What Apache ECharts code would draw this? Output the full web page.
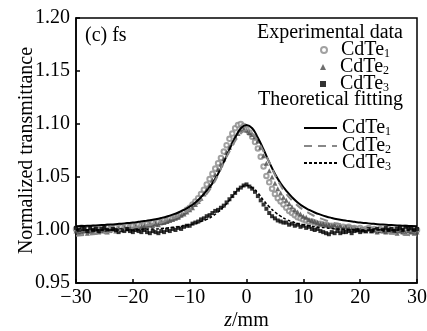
<!DOCTYPE html>
<html>
<head>
<meta charset="utf-8">
<script src="https://cdn.jsdelivr.net/npm/echarts@6/dist/echarts.min.js"></script>
<style>
html,body{margin:0;padding:0;background:#fff;}
#c{width:427px;height:331px;}
</style>
</head>
<body>
<div id="c"></div>
<script>
// ---- data ----
const zExp = [-30,-29.5,-29,-28.5,-28,-27.5,-27,-26.5,-26,-25.5,
-25,-24.5,-24,-23.5,-23,-22.5,-22,-21.5,-21,-20.5,
-20,-19.5,-19,-18.5,-18,-17.5,-17,-16.5,-16,-15.5,
-15,-14.5,-14,-13.5,-13,-12.5,-12,-11.5,-11,-10.5,
-10,-9.5,-9,-8.5,-8,-7.5,-7,-6.5,-6,-5.5,
-5,-4.5,-4,-3.5,-3,-2.5,-2,-1.5,-1,-0.5,
0,0.5,1,1.5,2,2.5,3,3.5,4,4.5,
5,5.5,6,6.5,7,7.5,8,8.5,9,9.5,
10,10.5,11,11.5,12,12.5,13,13.5,14,14.5,
15,15.5,16,16.5,17,17.5,18,18.5,19,19.5,
20,20.5,21,21.5,22,22.5,23,23.5,24,24.5,
25,25.5,26,26.5,27,27.5,28,28.5,29,29.5,
30];
const expCdTe1 = [1.001,0.999,1.002,1.000,1.001,0.999,1.002,1.001,1.000,1.002,
1.001,1.003,1.001,1.002,1.003,1.001,1.003,1.002,1.004,1.003,
1.004,1.003,1.005,1.004,1.005,1.006,1.005,1.007,1.006,1.008,
1.007,1.009,1.009,1.011,1.011,1.012,1.013,1.015,1.017,1.019,
1.021,1.024,1.027,1.030,1.034,1.038,1.043,1.048,1.053,1.058,
1.063,1.068,1.074,1.080,1.086,1.091,1.096,1.099,1.100,1.098,
1.095,1.092,1.088,1.083,1.077,1.069,1.060,1.051,1.045,1.039,
1.034,1.030,1.027,1.024,1.021,1.018,1.016,1.014,1.012,1.011,
1.010,1.009,1.008,1.008,1.007,1.006,1.006,1.005,1.005,1.004,
1.004,1.003,1.004,1.002,1.003,1.002,1.003,1.001,1.002,1.001,
1.002,1.000,1.001,1.002,1.000,1.001,0.999,1.001,1.000,0.999,
1.001,1.000,0.999,1.001,1.000,0.999,1.001,1.000,0.999,1.001,
1.000];
const expCdTe2 = [0.999,0.997,0.998,0.999,0.997,0.999,0.998,1.000,0.998,0.999,
1.000,0.998,1.000,1.001,0.999,1.001,1.000,1.002,1.001,1.002,
1.001,1.003,1.002,1.003,1.004,1.003,1.005,1.004,1.006,1.005,
1.007,1.007,1.008,1.009,1.010,1.011,1.012,1.014,1.015,1.017,
1.019,1.021,1.024,1.027,1.030,1.034,1.038,1.042,1.047,1.052,
1.057,1.062,1.067,1.073,1.078,1.083,1.088,1.091,1.094,1.095,
1.094,1.092,1.090,1.088,1.084,1.078,1.070,1.063,1.056,1.050,
1.044,1.039,1.035,1.031,1.028,1.025,1.022,1.019,1.017,1.015,
1.013,1.012,1.010,1.009,1.008,1.007,1.006,1.006,1.005,1.005,
1.004,1.005,1.003,1.004,1.002,1.003,1.002,1.001,1.002,1.000,
1.001,1.000,0.999,1.001,0.999,1.000,0.998,1.000,0.999,0.998,
1.000,0.998,0.999,0.997,0.999,0.998,0.997,0.999,0.998,0.997,
0.998];
const expCdTe3 = [1.002,1.000,1.003,1.001,0.999,1.002,1.000,1.001,0.999,1.001,
1.002,1.000,0.999,1.001,1.000,0.998,1.000,0.999,1.001,0.999,
0.998,1.000,0.999,0.998,1.000,0.998,0.997,0.999,0.998,0.997,
0.999,0.998,1.000,0.999,1.001,1.000,1.002,1.001,1.003,1.004,
1.004,1.006,1.007,1.008,1.010,1.011,1.013,1.014,1.016,1.018,
1.019,1.021,1.023,1.026,1.029,1.032,1.035,1.038,1.040,1.042,
1.043,1.041,1.039,1.036,1.032,1.028,1.024,1.020,1.016,1.013,
1.011,1.009,1.008,1.007,1.007,1.005,1.006,1.004,1.005,1.003,
1.004,1.002,1.003,1.001,1.000,1.001,0.999,0.998,0.997,0.996,
0.998,0.997,0.999,0.997,0.998,0.998,0.999,0.997,0.999,1.000,
0.998,1.000,0.999,1.001,0.999,1.000,1.001,0.999,1.000,1.002,
1.000,1.001,0.999,1.001,1.002,1.000,1.003,1.001,1.002,1.000,
1.001];
const zFit = [-30,-29,-28,-27,-26,-25,-24,-23,-22,-21,
-20,-19,-18,-17,-16,-15,-14,-13,-12,-11,
-10,-9,-8,-7,-6,-5,-4,-3,-2,-1,
0,1,2,3,4,5,6,7,8,9,
10,11,12,13,14,15,16,17,18,19,
20,21,22,23,24,25,26,27,28,29,30];
const fitCdTe1 = [1.0035,1.0037,1.0039,1.0042,1.0045,1.0048,1.0051,1.0055,1.0060,1.0065,
1.0070,1.0077,1.0084,1.0092,1.0102,1.0114,1.0128,1.0145,1.0165,1.0190,
1.0220,1.0260,1.0310,1.0370,1.0440,1.0530,1.0640,1.0760,1.0870,1.0960,
1.0990,1.0960,1.0870,1.0760,1.0640,1.0530,1.0440,1.0370,1.0310,1.0260,
1.0220,1.0190,1.0165,1.0145,1.0128,1.0114,1.0102,1.0092,1.0084,1.0077,
1.0070,1.0065,1.0060,1.0055,1.0051,1.0048,1.0045,1.0042,1.0039,1.0037,1.0035];
const fitCdTe2 = [0.9945,0.9950,0.9955,0.9960,0.9965,0.9970,0.9980,0.9990,1.0000,1.0010,
1.0020,1.0030,1.0040,1.0050,1.0060,1.0070,1.0090,1.0110,1.0130,1.0160,
1.0190,1.0230,1.0280,1.0340,1.0420,1.0520,1.0640,1.0740,1.0840,1.0910,
1.0940,1.0910,1.0840,1.0740,1.0640,1.0520,1.0420,1.0340,1.0280,1.0230,
1.0190,1.0160,1.0130,1.0110,1.0090,1.0070,1.0060,1.0050,1.0040,1.0030,
1.0020,1.0010,1.0000,0.9990,0.9980,0.9970,0.9965,0.9960,0.9955,0.9950,0.9945];
const fitCdTe3 = [1.0000,1.0000,1.0000,1.0000,1.0000,1.0000,1.0000,1.0000,1.0000,1.0000,
1.0001,1.0003,1.0005,1.0008,1.0010,1.0015,1.0020,1.0025,1.0030,1.0040,
1.0050,1.0060,1.0080,1.0100,1.0130,1.0170,1.0220,1.0280,1.0350,1.0400,
1.0420,1.0400,1.0350,1.0280,1.0220,1.0170,1.0130,1.0100,1.0080,1.0060,
1.0050,1.0040,1.0030,1.0025,1.0020,1.0015,1.0010,1.0008,1.0005,1.0003,
1.0001,1.0000,1.0000,1.0000,1.0000,1.0000,1.0000,1.0000,1.0000,1.0000,1.0000];
const legendLabels = {exp1:'CdTe', exp2:'CdTe', exp3:'CdTe', fit1:'CdTe', fit2:'CdTe', fit3:'CdTe'};
const legendSubs = {exp1:'1', exp2:'2', exp3:'3', fit1:'1', fit2:'2', fit3:'3'};

// ---- chart ----
const FONT = '"Liberation Serif","Times New Roman",serif';
const pairs = (xs, ys) => xs.map((x, i) => [x, ys[i]]);
const chart = echarts.init(document.getElementById('c'), null, {renderer: 'canvas'});

const legRich = {
  s: {fontSize: 12, fontFamily: FONT, color: '#000', verticalAlign: 'bottom'},
  sp: {width: 9}
};
function mkLegend(name, left, top, isExp) {
  const l = {
    data: [name], left: left, top: top, orient: 'vertical', padding: 0,
    itemWidth: isExp ? 6 : 33, itemHeight: isExp ? 6 : 2,
    selectedMode: false,
    formatter: n => (isExp ? '{sp|}' : '') + legendLabels[n] + '{s|' + legendSubs[n] + '}',
    textStyle: {fontSize: 20, fontFamily: FONT, color: '#000', rich: legRich}
  };
  if (!isExp) l.itemStyle = {opacity: 0};
  return l;
}

const option = {
  animation: false,
  backgroundColor: '#fff',
  textStyle: {fontFamily: FONT},
  grid: {left: 76, right: 10, top: 18, bottom: 48, show: true, borderColor: '#000', borderWidth: 1.5,
    backgroundColor: 'transparent', containLabel: false, outerBoundsMode: 'none'},
  xAxis: {
    type: 'value', min: -30, max: 30, interval: 10,
    axisLine: {onZero: false, lineStyle: {color: '#000', width: 1.5}},
    axisTick: {inside: true, length: 4, lineStyle: {color: '#000', width: 1.5}},
    axisLabel: {color: '#000', fontSize: 20, fontFamily: FONT, margin: 5,
      formatter: v => String(v).replace('-', '\u2212')},
    splitLine: {show: false},
    name: '{i|z}/mm', nameLocation: 'middle', nameGap: 28, nameMoveOverlap: false,
    nameTextStyle: {color: '#000', fontSize: 20, fontFamily: FONT,
      rich: {i: {fontStyle: 'italic', fontSize: 20, fontFamily: FONT, color: '#000'}}}
  },
  yAxis: {
    type: 'value', min: 0.95, max: 1.20, interval: 0.05,
    axisLine: {onZero: false, lineStyle: {color: '#000', width: 1.5}},
    axisTick: {inside: true, length: 4, lineStyle: {color: '#000', width: 1.5}},
    axisLabel: {color: '#000', fontSize: 20, fontFamily: FONT, margin: 6,
      formatter: v => v.toFixed(2)},
    splitLine: {show: false},
    name: 'Normalized transmittance', nameLocation: 'middle', nameGap: 39, nameMoveOverlap: false,
    nameTextStyle: {color: '#000', fontSize: 20, fontFamily: FONT}
  },
  legend: [
    mkLegend('exp1', 320, 40, true),
    mkLegend('exp2', 320, 57, true),
    mkLegend('exp3', 320, 74, true),
    mkLegend('fit1', 303, 118, false),
    mkLegend('fit2', 303, 136, false),
    mkLegend('fit3', 303, 153, false)
  ],
  graphic: [
    {type: 'text', x: 403, y: 33, style: {text: 'Experimental data', font: '20px ' + FONT, fill: '#000', align: 'right', verticalAlign: 'middle'}},
    {type: 'text', x: 403, y: 100, style: {text: 'Theoretical fitting', font: '20px ' + FONT, fill: '#000', align: 'right', verticalAlign: 'middle'}},
    {type: 'text', x: 85, y: 36, style: {text: '(c) fs', font: '20px ' + FONT, fill: '#000', align: 'left', verticalAlign: 'middle'}}
  ],
  series: [
    {name: 'exp1', type: 'scatter', data: pairs(zExp, expCdTe1), symbol: 'emptyCircle', symbolSize: 4.5,
      itemStyle: {color: '#8a8a8a', borderColor: '#8a8a8a', borderWidth: 0.9}},
    {name: 'exp2', type: 'scatter', data: pairs(zExp, expCdTe2), symbol: 'triangle', symbolSize: 5,
      itemStyle: {color: '#4a4a4a'}},
    {name: 'exp3', type: 'scatter', data: pairs(zExp, expCdTe3), symbol: 'rect', symbolSize: 4,
      itemStyle: {color: '#000'}},
    {name: 'fit1', type: 'line', data: pairs(zFit, fitCdTe1), symbol: 'none', smooth: true,
      lineStyle: {color: '#000', width: 2}, itemStyle: {color: '#000'}},
    {name: 'fit2', type: 'line', data: pairs(zFit, fitCdTe2), symbol: 'none', smooth: true,
      lineStyle: {color: '#888', width: 2, type: [8, 6]}, itemStyle: {color: '#888'}},
    {name: 'fit3', type: 'line', data: pairs(zFit, fitCdTe3), symbol: 'none', smooth: true,
      lineStyle: {color: '#000', width: 1.5, type: [3, 2]}, itemStyle: {color: '#000'}}
  ]
};
chart.setOption(option);
</script>
</body>
</html>
